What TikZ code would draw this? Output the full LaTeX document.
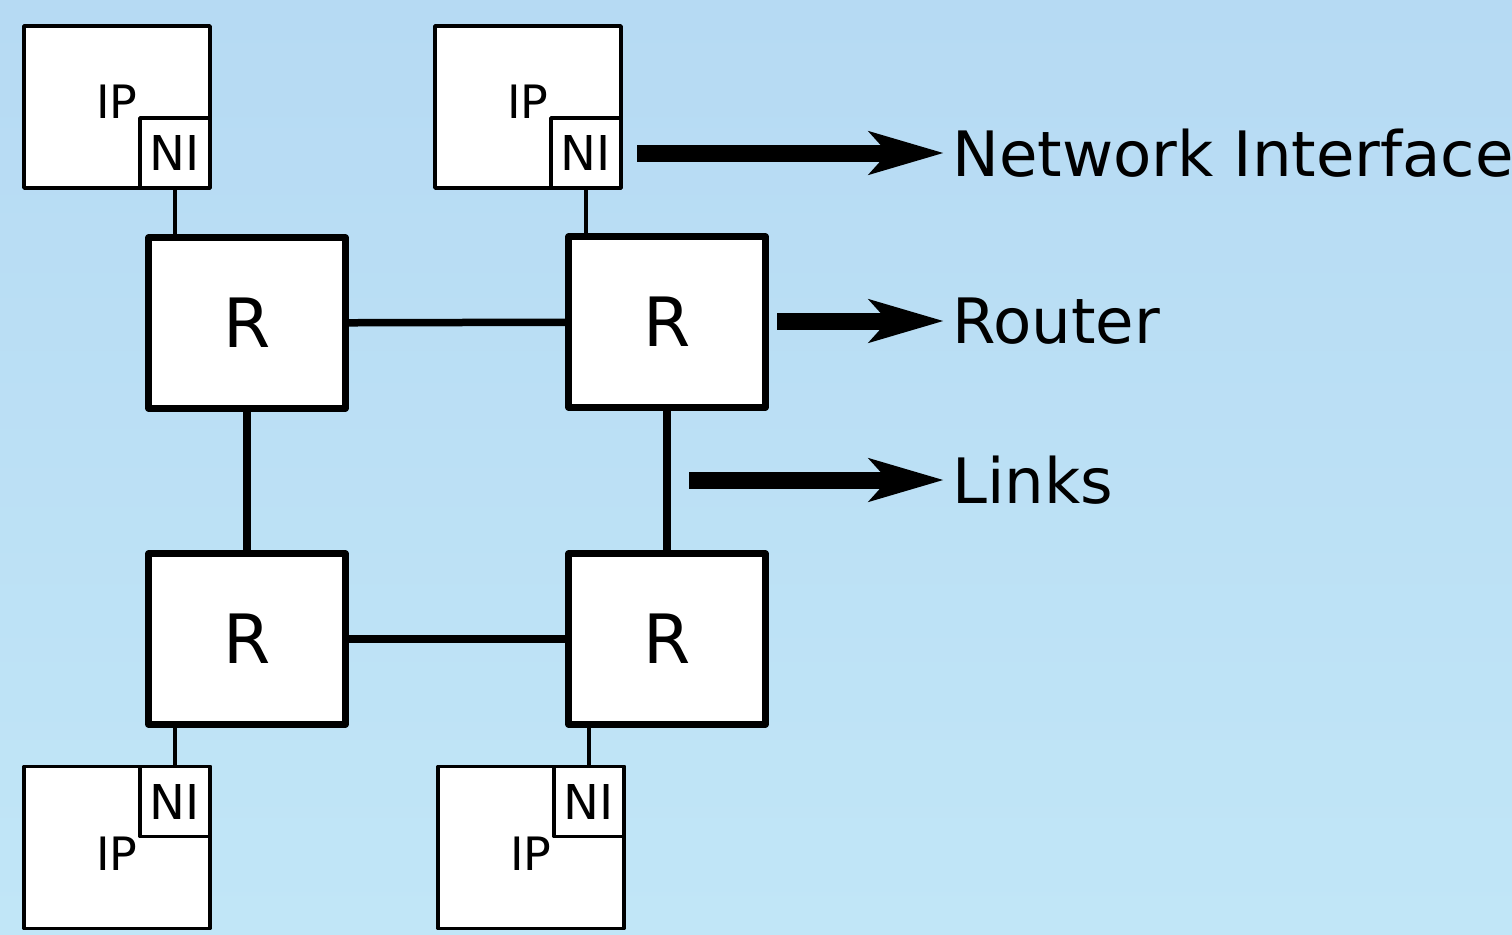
\documentclass[tikz,border=0pt]{standalone}
\usepackage{fontspec}
\setmainfont{DejaVu Sans}
\usetikzlibrary{arrows.meta}
\definecolor{bgtop}{RGB}{182,218,243}
\definecolor{bgbot}{RGB}{193,230,247}
\begin{document}
\begin{tikzpicture}[x=0.5pt,y=-0.5pt,line join=round,
    ipbox/.style={draw,fill=white,line width=1.75pt,minimum width=93pt,minimum height=81pt,inner sep=0pt},
    nibox/.style={draw,fill=white,line width=1.75pt,minimum size=35pt,inner sep=0pt,font=\fontsize{24}{24}\selectfont},
    iptext/.style={inner sep=0pt,font=\fontsize{23}{23}\selectfont},
    router/.style={draw,fill=white,line width=3.25pt,minimum width=98.5pt,minimum height=85.5pt,inner sep=0pt,font=\fontsize{34}{34}\selectfont},
    link/.style={line width=3.75pt},
    wire/.style={line width=1.75pt},
    bigarrow/.style={line width=8.5pt,-{Stealth[length=37pt,width=21pt,inset=9pt]}},
    keytext/.style={anchor=west,inner sep=4pt,font=\fontsize{31.3}{31.3}\selectfont}]
  \useasboundingbox (0,0) rectangle (1512,934);
  \shade[top color=bgtop,bottom color=bgbot] (0,0) rectangle (1512,934);
  \node[ipbox] (ip1) at (117,107) {};
  \node[ipbox] (ip2) at (528,107) {};
  \node[ipbox] (ip3) at (117,847.5) {};
  \node[ipbox] (ip4) at (531,847.5) {};
  \node[iptext,yshift=2.75pt] (ip1t) at (ip1) {IP};
  \node[iptext,yshift=2.75pt] (ip2t) at (ip2) {IP};
  \node[iptext,yshift=-3pt] (ip3t) at (ip3) {IP};
  \node[iptext,yshift=-3pt] (ip4t) at (ip4) {IP};
  \node[nibox,anchor=south east] (ni1) at (ip1.south east) {NI};
  \node[nibox,anchor=south east] (ni2) at (ip2.south east) {NI};
  \node[nibox,anchor=north east] (ni3) at (ip3.north east) {NI};
  \node[nibox,anchor=north east] (ni4) at (ip4.north east) {NI};
  \node[router] (r1) at (247,323) {R};
  \node[router] (r2) at (667,322) {R};
  \node[router] (r3) at (247,639) {R};
  \node[router] (r4) at (667,639) {R};
  \draw[link] (r1) -- (r2);
  \draw[link] (r3) -- (r4);
  \draw[link] (r1) -- (r3);
  \draw[link] (r2) -- (r4);
  \draw[wire] (ni1.south) -- (ni1.south |- r1.north);
  \draw[wire] (ni2.south) -- (ni2.south |- r2.north);
  \draw[wire] (ni3.north) -- (ni3.north |- r3.south);
  \draw[wire] (ni4.north) -- (ni4.north |- r4.south);
  \node[keytext] (nilbl) at (944,153) {Network Interface};
  \node[keytext] (rlbl) at (944,321) {Router};
  \node[keytext] (lklbl) at (944,480) {Links};
  \coordinate (niarr) at (637,153);
  \coordinate (rarr) at (777,321);
  \coordinate (lkarr) at (689,480);
  \draw[bigarrow] (niarr) -- (nilbl.west);
  \draw[bigarrow] (rarr) -- (rlbl.west);
  \draw[bigarrow] (lkarr) -- (lklbl.west);
\end{tikzpicture}
\end{document}
